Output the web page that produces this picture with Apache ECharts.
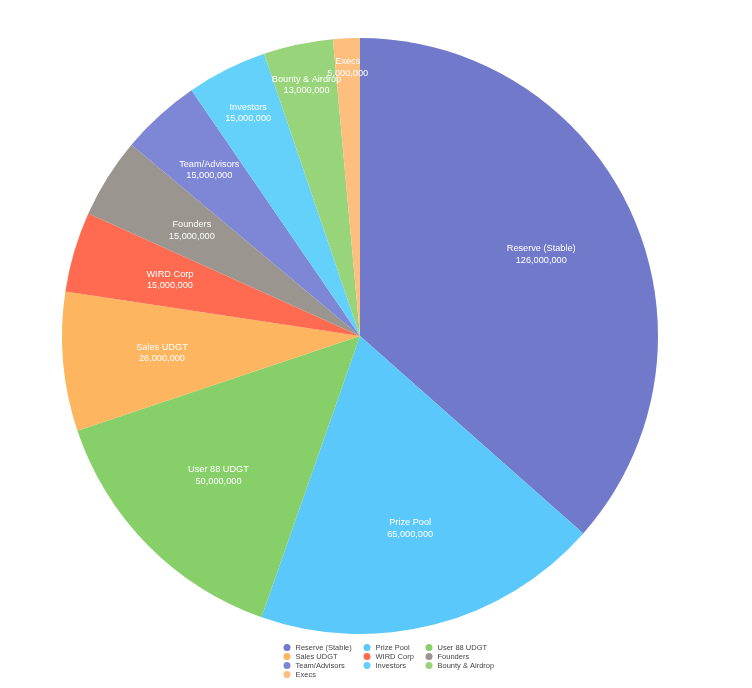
<!DOCTYPE html>
<html>
<head>
<meta charset="utf-8">
<script src="https://cdn.jsdelivr.net/npm/echarts@6/dist/echarts.min.js"></script>
<style>html,body{margin:0;padding:0;background:#fff}#c{width:752px;height:688px}</style>
</head>
<body>
<div id="c"></div>
<script>
const categories = ['Reserve (Stable)','Prize Pool','User 88 UDGT','Sales UDGT','WIRD Corp','Founders','Team/Advisors','Investors','Bounty & Airdrop','Execs'];
const values = [126000000,65000000,50000000,26000000,15000000,15000000,15000000,15000000,13000000,5000000];
const colors = ['#7179CB','#5AC8FA','#87CF68','#FDB55F','#FE6B50','#9B958F','#7E86D6','#64D1FA','#98D47A','#FDBE7E'];
const legendColumns = [
  ['Reserve (Stable)','Sales UDGT','Team/Advisors','Execs'],
  ['Prize Pool','WIRD Corp','Investors'],
  ['User 88 UDGT','Founders','Bounty & Airdrop']
];

const CX = 360, CY = 336, R = 298;
const labelRadiusRatio = [0.667,0.667,0.667,0.667,0.665,0.666,0.752,0.838,0.862,0.902];
const total = values.reduce((a,b)=>a+b,0);
const midAngles = [];
let cum = 0;
values.forEach(v => { midAngles.push((cum + v/2)/total*2*Math.PI); cum += v; });

const chart = echarts.init(document.getElementById('c'), null, {renderer:'canvas'});
const legendLefts = [283.5, 363.5, 425.5];
chart.setOption({
  backgroundColor: '#ffffff',
  animation: false,
  color: colors,
  legend: legendColumns.map((col, i) => ({
    data: col,
    orient: 'vertical',
    left: legendLefts[i],
    top: 643.5,
    padding: 0,
    itemGap: 1,
    itemWidth: 7,
    itemHeight: 7,
    icon: 'circle',
    selectedMode: false,
    textStyle: {fontFamily: 'Liberation Sans, Arial, sans-serif', fontSize: 7.5, color: '#444', lineHeight: 7, padding: 0}
  })),
  series: [{
    type: 'pie',
    center: [CX, CY],
    radius: [0, R],
    startAngle: 90,
    clockwise: true,
    avoidLabelOverlap: false,
    emphasis: {disabled: true},
    itemStyle: {borderWidth: 0},
    data: categories.map((n, i) => ({name: n, value: values[i]})),
    label: {
      show: true,
      position: 'inside',
      color: '#fff',
      fontFamily: 'Liberation Sans, Arial, sans-serif',
      fontSize: 9.2,
      lineHeight: 11.5,
      align: 'center',
      formatter: p => p.name + '\n' + p.value.toLocaleString('en-US')
    },
    labelLine: {show: false},
    labelLayout: function (params) {
      const i = params.dataIndex;
      const a = midAngles[i];
      const r = R * labelRadiusRatio[i];
      return {
        x: CX + r * Math.sin(a),
        y: CY - r * Math.cos(a),
        align: 'center',
        verticalAlign: 'middle'
      };
    }
  }]
});
</script>
</body>
</html>
